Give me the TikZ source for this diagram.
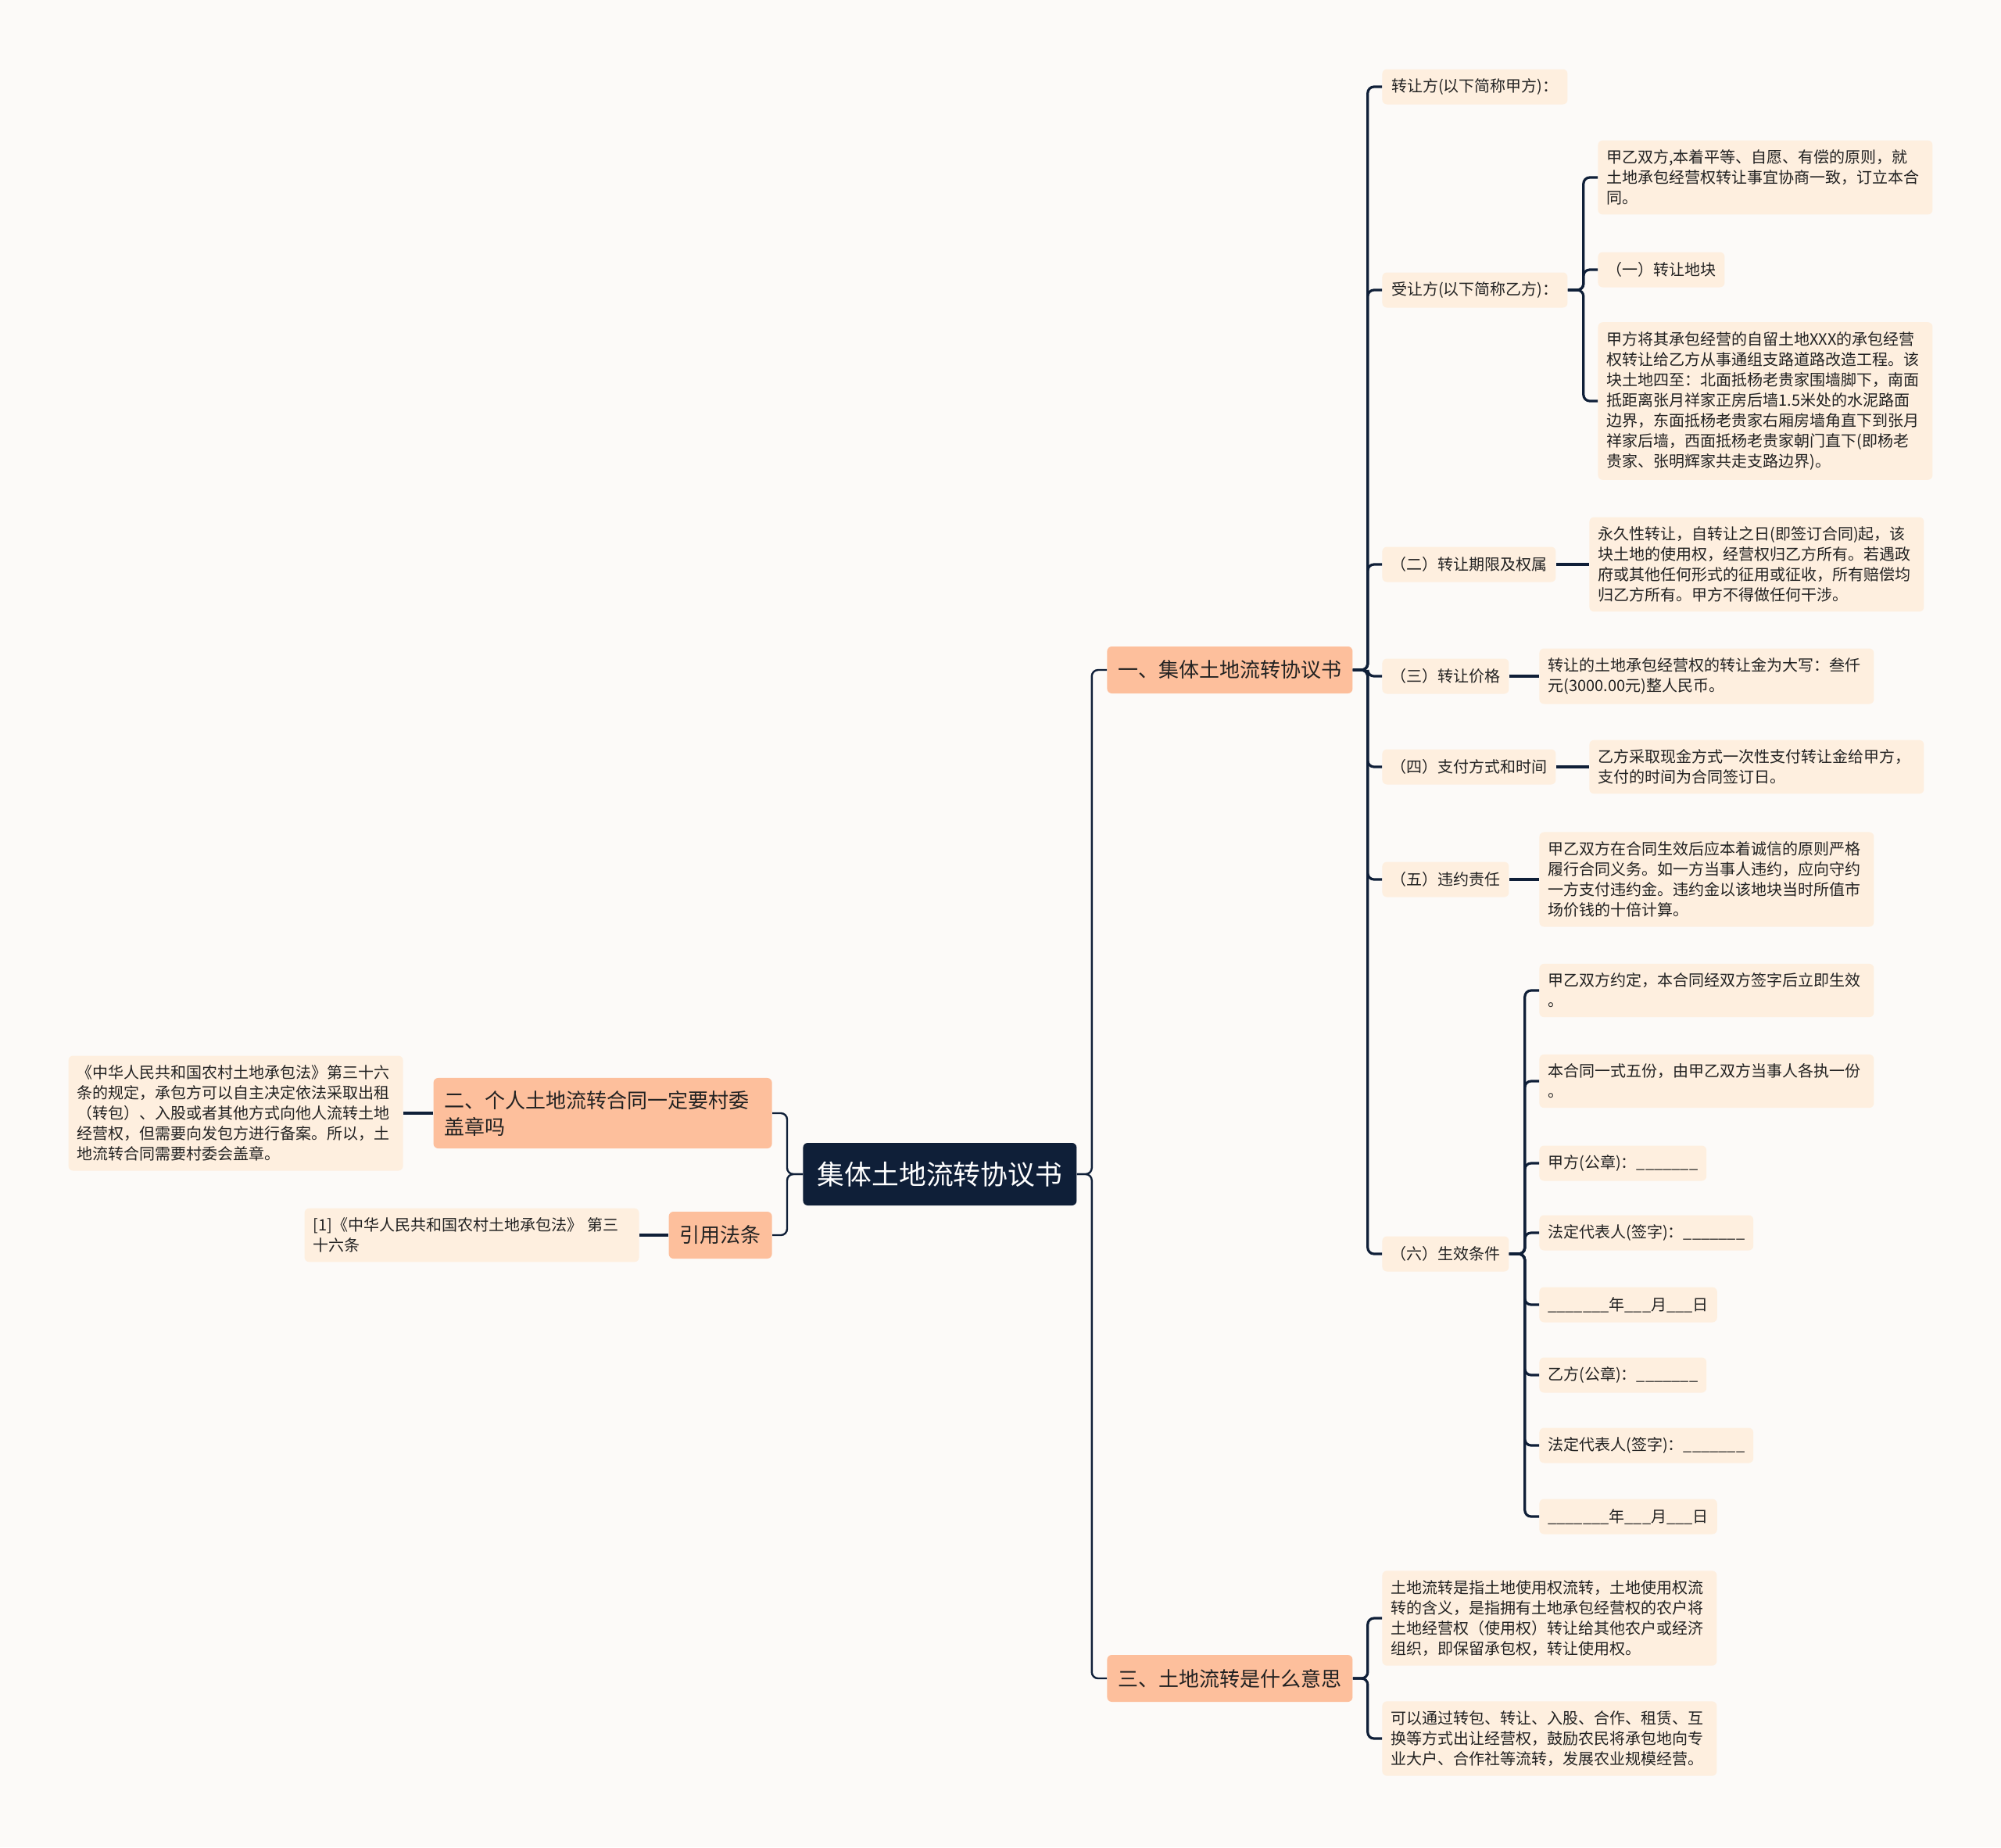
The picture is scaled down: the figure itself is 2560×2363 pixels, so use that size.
\documentclass[tikz,border=0pt]{standalone}
\usepackage{fontspec}
\setmainfont{Noto Sans CJK SC}

\definecolor{bgpaper}{HTML}{FCFAF8}
\definecolor{navy}{HTML}{0F1F38}
\definecolor{peach}{HTML}{FDBF9C}
\definecolor{cream}{HTML}{FEEFDF}
\definecolor{ink}{HTML}{222222}

\newcommand{\longblank}{\_\_\_\_\_\_\_}
\newcommand{\shortblank}{\_\_\_}

\tikzset{
  rootbox/.style={fill=navy, text=white, rounded corners=3pt, font=\fontsize{17.4}{20}\selectfont,
    minimum width=175pt, minimum height=40pt, inner xsep=9pt, anchor=west},
  topic/.style={fill=peach, text=ink, rounded corners=3pt, font=\fontsize{13}{17}\selectfont,
    minimum height=30pt, inner xsep=7pt, inner ysep=6pt},
  leaf/.style={fill=cream, text=ink, rounded corners=3pt, font=\fontsize{10}{13.06}\selectfont,
    minimum height=22.5pt, inner xsep=5.5pt, inner ysep=6pt, anchor=west},
  note/.style={leaf, text width=203pt, align=left},
  link/.style={draw=navy, line width=1.6pt, rounded corners=4pt},
}

\begin{document}
\begin{tikzpicture}[x=0.5pt,y=-0.5pt]
\fill[bgpaper] (0,0) rectangle (2560,2363);
\useasboundingbox (0,0) rectangle (2560,2363);

\node[rootbox] (root) at (1027,1502) {集体土地流转协议书};

\node[topic, anchor=west] (t1) at (1416,857) {一、集体土地流转协议书};
\node[topic, anchor=east, text width=202.5pt, align=left, inner ysep=8pt] (t2) at (988,1424) {二、个人土地流转合同一定要村委\\盖章吗};
\node[topic, anchor=east] (t4) at (988,1580) {引用法条};
\node[topic, anchor=west] (t3) at (1416,2147) {三、土地流转是什么意思};

% left side
\node[note, anchor=east] (l1) at (516,1424) {《中华人民共和国农村土地承包法》第三十六\\条的规定，承包方可以自主决定依法采取出租\\（转包）、入股或者其他方式向他人流转土地\\经营权，但需要向发包方进行备案。所以，土\\地流转合同需要村委会盖章。};
\node[note, anchor=east] (l2) at (818,1580) {[1]《中华人民共和国农村土地承包法》~第三\\十六条};

% branch one
\node[leaf, minimum width=118.5pt, align=left] (a1) at (1768,111) {转让方(以下简称甲方)：};
\node[leaf, minimum width=118.5pt, align=left] (a2) at (1768,371) {受让方(以下简称乙方)：};
\node[leaf] (a3) at (1768,722) {（二）转让期限及权属};
\node[leaf] (a4) at (1768,865) {（三）转让价格};
\node[leaf] (a5) at (1768,981) {（四）支付方式和时间};
\node[leaf] (a6) at (1768,1125) {（五）违约责任};
\node[leaf] (a7) at (1768,1604) {（六）生效条件};

\node[note] (b1) at (2044,227) {甲乙双方,本着平等、自愿、有偿的原则，就\\土地承包经营权转让事宜协商一致，订立本合\\同。};
\node[leaf] (b2) at (2044,345) {（一）转让地块};
\node[note] (b3) at (2044,513) {甲方将其承包经营的自留土地XXX的承包经营\\权转让给乙方从事通组支路道路改造工程。该\\块土地四至：北面抵杨老贵家围墙脚下，南面\\抵距离张月祥家正房后墙1.5米处的水泥路面\\边界，东面抵杨老贵家右厢房墙角直下到张月\\祥家后墙，西面抵杨老贵家朝门直下(即杨老\\贵家、张明辉家共走支路边界)。};

\node[note] (c1) at (2033,722) {永久性转让，自转让之日(即签订合同)起，该\\块土地的使用权，经营权归乙方所有。若遇政\\府或其他任何形式的征用或征收，所有赔偿均\\归乙方所有。甲方不得做任何干涉。};
\node[note] (c2) at (1969,865) {转让的土地承包经营权的转让金为大写：叁仟\\元(3000.00元)整人民币。};
\node[note] (c3) at (2033,981) {乙方采取现金方式一次性支付转让金给甲方，\\支付的时间为合同签订日。};
\node[note] (c4) at (1969,1125) {甲乙双方在合同生效后应本着诚信的原则严格\\履行合同义务。如一方当事人违约，应向守约\\一方支付违约金。违约金以该地块当时所值市\\场价钱的十倍计算。};

\node[note] (d1) at (1969,1267) {甲乙双方约定，本合同经双方签字后立即生效\\。};
\node[note] (d2) at (1969,1383) {本合同一式五份，由甲乙双方当事人各执一份\\。};
\node[leaf] (d3) at (1969,1488) {甲方(公章)：\longblank};
\node[leaf] (d4) at (1969,1577) {法定代表人(签字)：\longblank};
\node[leaf] (d5) at (1969,1669) {\longblank 年\shortblank 月\shortblank 日};
\node[leaf] (d6) at (1969,1759) {乙方(公章)：\longblank};
\node[leaf] (d7) at (1969,1849) {法定代表人(签字)：\longblank};
\node[leaf] (d8) at (1969,1940) {\longblank 年\shortblank 月\shortblank 日};

% branch three
\node[note] (e1) at (1768,2070) {土地流转是指土地使用权流转，土地使用权流\\转的含义，是指拥有土地承包经营权的农户将\\土地经营权（使用权）转让给其他农户或经济\\组织，即保留承包权，转让使用权。};
\node[note] (e2) at (1768,2224) {可以通过转包、转让、入股、合作、租赁、互\\换等方式出让经营权，鼓励农民将承包地向专\\业大户、合作社等流转，发展农业规模经营。};

% connectors
\foreach \n in {t1,t3}
  \draw[link, line width=1.2pt] (root.east) -- ++(19,0) |- (\n.west);
\foreach \n in {t2,t4}
  \draw[link, line width=1.2pt] (root.west) -- ++(-20,0) |- (\n.east);
\draw[link] (t2.west) -- (l1.east);
\draw[link] (t4.west) -- (l2.east);
\foreach \n in {a1,a2,a3,a4,a5,a6,a7}
  \draw[link] (t1.east) -- ++(19,0) |- (\n.west);
\foreach \n in {b1,b2,b3}
  \draw[link] (a2.east) -- ++(20,0) |- (\n.west);
\draw[link] (a3.east) -- (c1.west);
\draw[link] (a4.east) -- (c2.west);
\draw[link] (a5.east) -- (c3.west);
\draw[link] (a6.east) -- (c4.west);
\foreach \n in {d1,d2,d3,d4,d5,d6,d7,d8}
  \draw[link] (a7.east) -- ++(20,0) |- (\n.west);
\foreach \n in {e1,e2}
  \draw[link] (t3.east) -- ++(19,0) |- (\n.west);
\end{tikzpicture}
\end{document}
